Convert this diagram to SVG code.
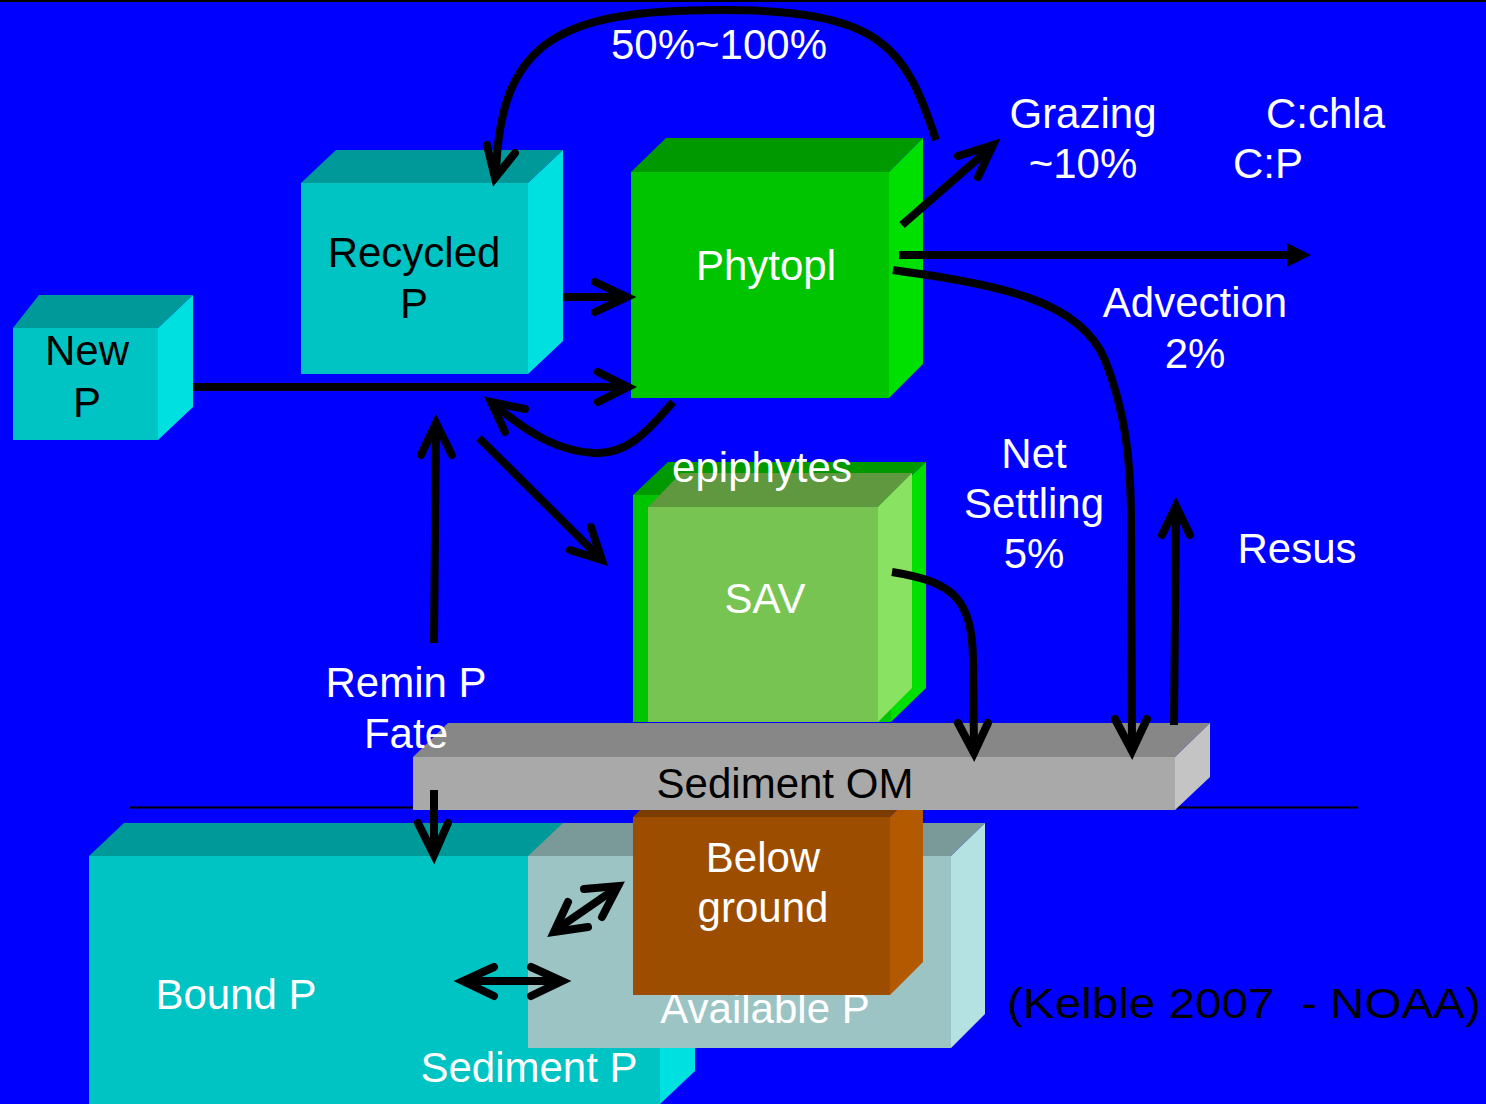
<svg xmlns="http://www.w3.org/2000/svg" width="1486" height="1104" viewBox="0 0 1486 1104">
  <style>
    text { font-family: "Liberation Sans", Arial, sans-serif; font-size: 42px; }
    .w { fill: #ffffff; }
    .k { fill: #000000; }
    .c { text-anchor: middle; }
    .cy-front { fill: #00C4C4; } .cy-top { fill: #009999; } .cy-side { fill: #00E0E0; }
    .gr-front { fill: #00C400; } .gr-top { fill: #009900; } .gr-side { fill: #00E000; }
    .sv-front { fill: #77C452; } .sv-top { fill: #5F983F; } .sv-side { fill: #8AE262; }
    .av-front { fill: #9CC4C4; } .av-top { fill: #7A9999; } .av-side { fill: #B4E2E2; }
    .bg-front { fill: #9C4D00; } .bg-top { fill: #7A3C00; } .bg-side { fill: #B35A00; }
    .om-front { fill: #A9A9A9; } .om-top { fill: #878787; } .om-side { fill: #C4C4C4; }
    .line { fill: none; stroke: #000; stroke-width: 8; stroke-linecap: butt; }
    .head { fill: none; stroke: #000; stroke-width: 8; stroke-linecap: round; stroke-linejoin: miter; }
  </style>

  <!-- background -->
  <rect x="0" y="0" width="1486" height="1104" fill="#0000FF"/>
  <rect x="0" y="0" width="1486" height="2" fill="#000"/>

  <!-- water / sediment interface -->
  <line x1="130" y1="807.5" x2="1358" y2="807.5" stroke="#000" stroke-width="2"/>

  <!-- Sediment P (bound pool) -->
  <g id="sediment-p">
    <polygon class="cy-top" points="89,856 124,823 695,823 660,856"/>
    <polygon class="cy-side" points="660,856 695,823 695,1071 660,1104"/>
    <rect class="cy-front" x="89" y="856" width="571" height="260"/>
    <text class="w c" x="236" y="1009">Bound P</text>
    <text class="w c" x="529" y="1082">Sediment P</text>
  </g>

  <!-- Available P -->
  <g id="available-p">
    <polygon class="av-top" points="528,856 563,823 985,823 951,856"/>
    <polygon class="av-side" points="951,856 985,823 985,1014 951,1048"/>
    <rect class="av-front" x="528" y="856" width="423" height="192"/>
    <text class="w c" x="765" y="1023">Available P</text>
  </g>

  <!-- Below ground biomass -->
  <g id="below-ground">
    <polygon class="bg-top" points="633,817 666,784 923,784 890,817"/>
    <polygon class="bg-side" points="890,817 923,784 923,962 890,995"/>
    <rect class="bg-front" x="633" y="817" width="257" height="178"/>
    <text class="w c" x="763" y="872">Below</text>
    <text class="w c" x="763" y="922">ground</text>
  </g>

  <!-- Sediment OM slab -->
  <g id="sediment-om">
    <polygon class="om-top" points="413,757 448,723 1210,723 1175,757"/>
    <polygon class="om-side" points="1175,757 1210,723 1210,777 1175,810"/>
    <rect class="om-front" x="413" y="757" width="762" height="53"/>
    <text class="k c" x="785" y="798">Sediment OM</text>
  </g>

  <!-- New P -->
  <g id="new-p">
    <polygon class="cy-top" points="13,328 39,295 193,295 158,328"/>
    <polygon class="cy-side" points="158,328 193,295 193,407 158,440"/>
    <rect class="cy-front" x="13" y="328" width="145" height="112"/>
    <text class="k c" x="87" y="365">New</text>
    <text class="k c" x="87" y="417">P</text>
  </g>

  <!-- Recycled P -->
  <g id="recycled-p">
    <polygon class="cy-top" points="301,183 336,150 563,150 528,183"/>
    <polygon class="cy-side" points="528,183 563,150 563,341 528,374"/>
    <rect class="cy-front" x="301" y="183" width="227" height="191"/>
    <text class="k c" x="414" y="267">Recycled</text>
    <text class="k c" x="414" y="318">P</text>
  </g>

  <!-- Phytoplankton -->
  <g id="phytopl">
    <polygon class="gr-top" points="631,172 666,138 923,138 889,172"/>
    <polygon class="gr-side" points="889,172 923,138 923,364 889,398"/>
    <rect class="gr-front" x="631" y="172" width="258" height="226"/>
    <text class="w c" x="766" y="280">Phytopl</text>
  </g>

  <!-- SAV with epiphyte coating -->
  <g id="sav">
    <polygon class="gr-top" points="633,495 668,462 926,462 891,495"/>
    <polygon class="gr-side" points="891,495 926,462 926,688 891,722"/>
    <rect class="gr-front" x="633" y="495" width="258" height="227"/>
    <polygon class="sv-top" points="648,507 681,473 912,473 878,507"/>
    <polygon class="sv-side" points="878,507 912,473 912,688 878,722"/>
    <rect class="sv-front" x="648" y="507" width="230" height="215"/>
    <text class="w c" x="762" y="482">epiphytes</text>
    <text class="w c" x="765" y="613">SAV</text>
  </g>

  <!-- flux arrows -->
  <g id="connectors">
    <!-- recycling loop 50%~100% -->
    <path class="line" d="M936,140 C905,45 880,10 720,10 C560,10 500,40 496,174"/>
    <path class="head" d="M487,145 L495,178 L515,153"/>
    <!-- Recycled P uptake -->
    <path class="line" d="M563,297 L624,297"/>
    <path class="head" d="M595,282 L627,297 L595,312"/>
    <!-- New P uptake -->
    <path class="line" d="M193,387 L624,387"/>
    <path class="head" d="M598,372 L628,387 L598,402"/>
    <!-- phytoplankton release -->
    <path class="line" d="M673,402 C645,435 625,455 593,453 C560,451 530,435 495,405"/>
    <path class="head" d="M525,409 L491,402 L505,432"/>
    <!-- remineralised P -->
    <path class="line" d="M434,643 L436,427"/>
    <path class="head" d="M421,455 L436,423 L452,455"/>
    <!-- uptake by SAV -->
    <path class="line" d="M479,438 L598,556"/>
    <path class="head" d="M570,550 L602,560 L591,527"/>
    <!-- grazing -->
    <path class="line" d="M902,225 L988,150"/>
    <path class="head" d="M958,156 L993,145 L978,177"/>
    <!-- advection -->
    <path class="line" d="M899,255 L1290,255"/>
    <polygon points="1287,243 1311,255 1287,267" fill="#000"/>
    <!-- phytoplankton settling -->
    <path class="line" d="M893,270 C1000,285 1080,300 1105,360 C1125,410 1131,460 1131,520 L1132,747"/>
    <path class="head" d="M1115,719 L1132,751 L1147,719"/>
    <!-- SAV settling -->
    <path class="line" d="M892,572 C955,582 972,600 973,660 L974,749"/>
    <path class="head" d="M958,723 L974,753 L988,723"/>
    <!-- resuspension -->
    <path class="line" d="M1174,725 L1176,510"/>
    <path class="head" d="M1162,535 L1176,506 L1190,535"/>
    <!-- burial into sediment P -->
    <path class="line" d="M434,790 L434,851"/>
    <path class="head" d="M418,823 L434,855 L448,823"/>
    <!-- exchange available P / below ground -->
    <path class="line" d="M557,929 L615,889"/>
    <path class="head" d="M584,889 L618,886 L602,917"/>
    <path class="head" d="M568,902 L554,932 L588,927"/>
    <!-- exchange bound P / available P -->
    <path class="line" d="M467,981 L558,981"/>
    <path class="head" d="M494,967 L463,981 L494,996"/>
    <path class="head" d="M531,967 L562,981 L531,996"/>
  </g>

  <!-- flux labels -->
  <g id="labels">
    <text class="w c" x="719" y="59">50%~100%</text>
    <text class="w c" x="1083" y="128">Grazing</text>
    <text class="w c" x="1083" y="178">~10%</text>
    <text class="w" x="1266" y="128">C:chla</text>
    <text class="w" x="1233" y="178">C:P</text>
    <text class="w c" x="1195" y="317">Advection</text>
    <text class="w c" x="1195" y="368">2%</text>
    <text class="w c" x="1034" y="468">Net</text>
    <text class="w c" x="1034" y="518">Settling</text>
    <text class="w c" x="1034" y="568">5%</text>
    <text class="w c" x="1297" y="563">Resus</text>
    <text class="w c" x="406" y="697">Remin P</text>
    <text class="w c" x="406" y="748">Fate</text>
    <text class="k" x="1007" y="1018" font-size="47" textLength="474" lengthAdjust="spacingAndGlyphs" xml:space="preserve">(Kelble 2007  - NOAA)</text>
  </g>
</svg>
